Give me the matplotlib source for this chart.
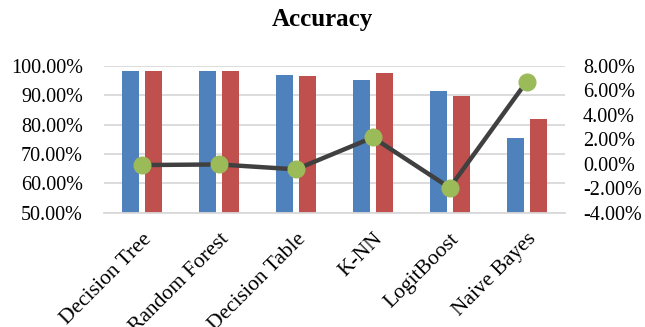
import numpy as np
import matplotlib.pyplot as plt

plt.rcParams['font.family'] = ['Liberation Serif', 'DejaVu Serif']

models = ['Decision Tree', 'Random Forest', 'Decision Table', 'K-NN', 'LogitBoost', 'Naive Bayes']
acc_a = [98.3, 98.1, 97.0, 95.3, 91.4, 75.3]
acc_b = [98.2, 98.1, 96.6, 97.4, 89.6, 81.9]
diff = [-0.1, -0.05, -0.45, 2.15, -1.95, 6.7]

x = np.arange(len(models))
w = 0.22
gap = 0.08

fig = plt.figure(figsize=(6.45, 3.27), dpi=100)
ax = fig.add_axes([0.161, 0.349, 0.715, 0.450])
ax2 = ax.twinx()

ax.bar(x - (w + gap) / 2, acc_a, w, color='#4F81BD', zorder=2)
ax.bar(x + (w + gap) / 2, acc_b, w, color='#C0504D', zorder=2)

ax.set_ylim(50, 100)
ax.set_yticks(np.arange(50, 101, 10))
ax.set_yticklabels([f'{v:.2f}%' for v in np.arange(50, 101, 10)], fontsize=14.5)
ax.set_xlim(-0.5, len(models) - 0.5)
ax.set_xticks(x)
ax.set_xticklabels(models, rotation=45, ha='right', rotation_mode='anchor', fontsize=15.5)
ax.grid(axis='y', color='#D9D9D9', linewidth=1.3, zorder=0)
ax.set_axisbelow(True)
ax.tick_params(axis='y', length=0, pad=15)
ax.tick_params(axis='x', length=0, pad=12)
for s in ['top', 'left', 'right']:
    ax.spines[s].set_visible(False)
ax.spines['bottom'].set_color('#D9D9D9')
ax.spines['bottom'].set_linewidth(1.3)

ax2.plot(x, diff, color='#404040', linewidth=3.2, marker='o', markersize=12,
         markerfacecolor='#9BBB59', markeredgecolor='#9BBB59', zorder=3)
ax2.set_ylim(-4, 8)
ax2.set_yticks(np.arange(-4, 9, 2))
ax2.set_yticklabels([f'{v:.2f}%' for v in np.arange(-4, 9, 2)], fontsize=14.5)
ax2.tick_params(length=0, pad=13)
for s in ['top', 'left', 'right', 'bottom']:
    ax2.spines[s].set_visible(False)

fig.suptitle('Accuracy', fontsize=18, fontweight='bold', y=0.975)

fig.savefig('out.png', dpi=100)
